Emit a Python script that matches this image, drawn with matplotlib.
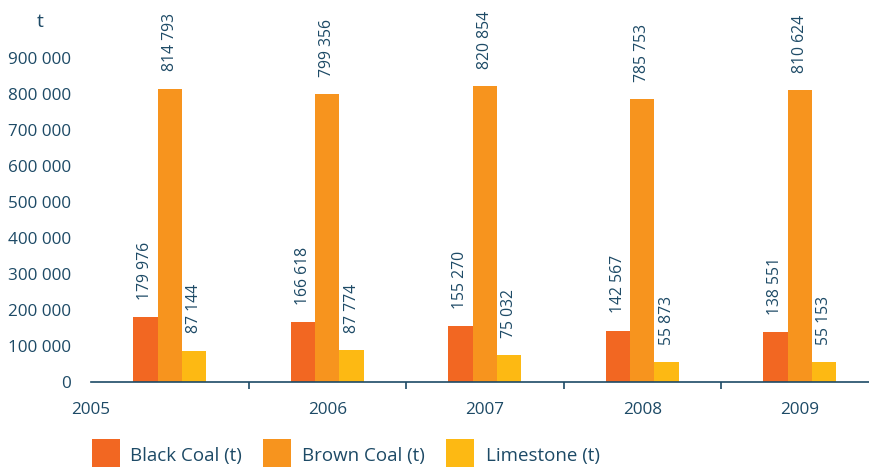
import matplotlib
matplotlib.use("Agg")
import matplotlib.pyplot as plt
from matplotlib.patches import Rectangle
import numpy as np

years = ["2005", "2006", "2007", "2008", "2009"]
series_names = ["Black Coal (t)", "Brown Coal (t)", "Limestone (t)"]
black_coal = [179976, 166618, 155270, 142567, 138551]
brown_coal = [814793, 799356, 820854, 785753, 810624]
limestone = [87144, 87774, 75032, 55873, 55153]
y_ticks = [0, 100000, 200000, 300000, 400000, 500000, 600000, 700000, 800000, 900000]

colors = ["#F26722", "#F7941E", "#FDB913"]
text_color = "#1D4A66"

plt.rcParams['font.family'] = ['Open Sans', 'DejaVu Sans']

def fmt(v):
    return f"{v:,}".replace(",", " ")

W, H = 869, 467
fig = plt.figure(figsize=(W / 100, H / 100), dpi=100)
ax = fig.add_axes([91 / W, (H - 382) / H, (W - 91) / W, 360 / H])

x = np.arange(len(years))
bw = 0.155
data = [black_coal, brown_coal, limestone]
for i, (vals, c) in enumerate(zip(data, colors)):
    xs = x + (i - 1) * bw
    ax.bar(xs, vals, width=bw, color=c, zorder=2)
    for xx, v in zip(xs, vals):
        ax.annotate(fmt(v), (xx, v), xytext=(0, 12.5), textcoords="offset points",
                    rotation=90, ha="center", va="bottom", fontsize=11.3,
                    color=text_color)

ax.set_xlim(-0.5, -0.5 + (W - 91) / 157.5)
ax.set_ylim(0, 1000000)

for s in ["top", "right", "left"]:
    ax.spines[s].set_visible(False)
ax.spines["bottom"].set_color(text_color)
ax.spines["bottom"].set_linewidth(1.2)

ax.set_yticks(y_ticks)
ax.set_yticklabels([fmt(v) for v in y_ticks])
ax.tick_params(axis="y", length=0, pad=14.5, labelsize=12.3, labelcolor=text_color)

ax.set_xticks([-0.5, 1, 2, 3, 4])
ax.set_xticklabels(years)
ax.tick_params(axis="x", which="major", length=0, pad=14.5, labelsize=12.3, labelcolor=text_color)
ax.set_xticks([0.5, 1.5, 2.5, 3.5], minor=True)
ax.tick_params(axis="x", which="minor", length=5, width=1.2, color=text_color, direction="out")

fig.text(40 / W, 1 - 22 / H, "t", fontsize=14, color=text_color, ha="center", va="center")

# legend
sq_x = [92, 263, 446]
txt_x = [130, 302, 486]
for sx, tx, c, name in zip(sq_x, txt_x, colors, series_names):
    fig.patches.append(Rectangle((sx / W, 0), 28 / W, 28 / H, transform=fig.transFigure,
                                 facecolor=c, edgecolor="none"))
    fig.text(tx / W, 1 - 456 / H, name, fontsize=13.5, color=text_color,
             ha="left", va="center")

fig.savefig("out.png", dpi=100)
